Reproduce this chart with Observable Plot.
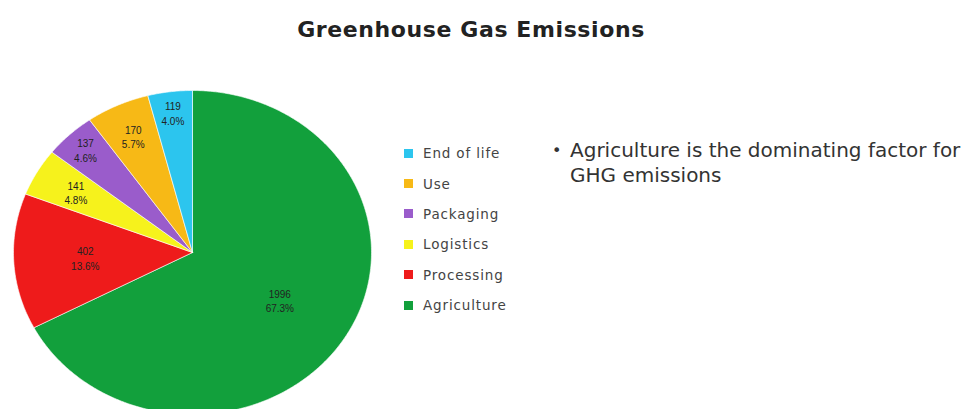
<!DOCTYPE html>
<html>
<head>
<meta charset="utf-8">
<script src="https://cdn.jsdelivr.net/npm/d3@7"></script>
<script src="https://cdn.jsdelivr.net/npm/@observablehq/plot@0.6"></script>
<style>
  html, body { margin: 0; padding: 0; background: #fff; }
  #page { position: relative; width: 961px; height: 409px; overflow: hidden; font-family: "Liberation Sans", Arial, sans-serif; }
  #title { position: absolute; top: 17px; left: 0; width: 942px; text-align: center; font-family: "DejaVu Sans", sans-serif; font-weight: bold; font-size: 22px; letter-spacing: 0.6px; color: #222; }
  #chart { position: absolute; left: 0; top: 60px; }
  #legend { position: absolute; left: 404px; top: 138px; }
  .row { height: 30.4px; display: flex; align-items: center; font-family: "DejaVu Sans", sans-serif; font-size: 13.5px; letter-spacing: 0.85px; color: #444; }
  .sw { width: 9px; height: 9px; margin-right: 10px; }
  #note { position: absolute; left: 552px; top: 138px; font-family: "DejaVu Sans", sans-serif; font-size: 20px; color: #333; line-height: 25px; }
  #note .b { position: absolute; left: 0; top: 0; font-size: 16px; }
  #note .t { margin-left: 18px; width: 420px; white-space: nowrap; }
</style>
</head>
<body>
<div id="page">
  <div id="title"></div>
  <div id="chart"></div>
  <div id="legend"></div>
  <div id="note"><span class="b">•</span><div class="t"></div></div>
</div>
<script>
// ---- data ----
const title = "Greenhouse Gas Emissions";
const categories = ["Agriculture", "Processing", "Logistics", "Packaging", "Use", "End of life"];
const values = [1996, 402, 141, 137, 170, 119];
const percents = ["67.3%", "13.6%", "4.8%", "4.6%", "5.7%", "4.0%"];
const note = ["Agriculture is the dominating factor for", "GHG emissions"];

// ---- style / layout ----
const colors = ["#12a03c", "#ee1b1b", "#f6f21c", "#9a5ccb", "#f7b916", "#2cc5ee"];
const labelRadius = [0.57, 0.6, 0.75, 0.87, 0.79, 0.87];

const total = d3.sum(values);
const slices = [];
const labels = [];
let cum = 0;
categories.forEach((c, i) => {
  const a0 = cum / total * 2 * Math.PI;
  cum += values[i];
  const a1 = cum / total * 2 * Math.PI;
  const n = Math.max(2, Math.ceil((a1 - a0) / 0.01));
  slices.push({category: c, x: 0, y: 0});
  for (let k = 0; k <= n; k++) {
    const a = a0 + (a1 - a0) * k / n;
    slices.push({category: c, x: Math.sin(a), y: Math.cos(a)});
  }
  slices.push({category: c, x: 0, y: 0});
  const m = (a0 + a1) / 2;
  labels.push({x: Math.sin(m) * labelRadius[i], y: Math.cos(m) * labelRadius[i], text: values[i] + "\n" + percents[i]});
});

const plot = Plot.plot({
  width: 380,
  height: 349,
  margin: 0,
  x: {domain: [-1, 1], range: [13, 371], axis: null},
  y: {domain: [-1, 1], range: [354, 30], axis: null},
  color: {domain: categories, range: colors},
  marks: [
    Plot.line(slices, {x: "x", y: "y", z: "category", fill: "category", stroke: "#fff", strokeWidth: 0.6, curve: "linear-closed"}),
    Plot.text(labels, {x: "x", y: "y", text: "text", fontSize: 10, fontFamily: "Liberation Sans, Arial, sans-serif", fill: "#222", lineHeight: 1.45})
  ]
});
document.getElementById("chart").appendChild(plot);
document.getElementById("title").textContent = title;

const legend = document.getElementById("legend");
categories.slice().reverse().forEach(c => {
  const i = categories.indexOf(c);
  const row = document.createElement("div");
  row.className = "row";
  const sw = document.createElement("div");
  sw.className = "sw";
  sw.style.background = colors[i];
  row.appendChild(sw);
  row.appendChild(document.createTextNode(c));
  legend.appendChild(row);
});
document.querySelector("#note .t").innerHTML = note.join("<br>");
</script>
</body>
</html>
